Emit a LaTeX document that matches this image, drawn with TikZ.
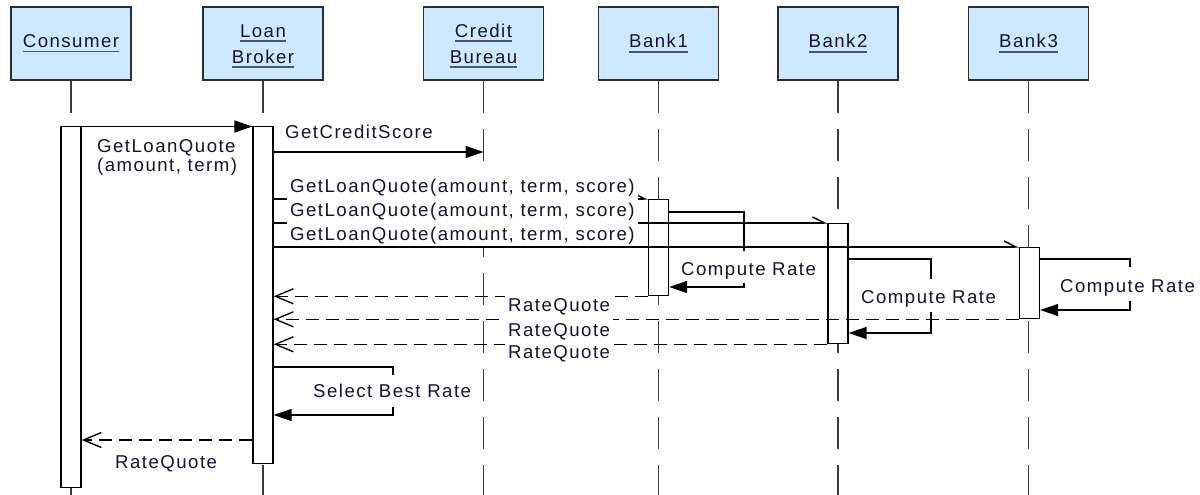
\documentclass[tikz,border=0pt]{standalone}
\usepackage{fontspec}
\setmainfont{Liberation Sans}
\newfontfamily\lab[LetterSpace=8]{Liberation Sans}
\usetikzlibrary{arrows.meta}
\definecolor{boxfill}{RGB}{204,233,255}
\definecolor{boxline}{RGB}{45,45,45}
\definecolor{txt}{RGB}{20,20,50}
\definecolor{ulc}{RGB}{75,85,100}
\definecolor{lifec}{RGB}{60,60,60}
\newcommand{\ulword}[1]{\setbox0=\hbox{#1}\rlap{\textcolor{ulc}{\rule[-4.8pt]{\wd0}{1.6pt}}}\box0}
\begin{document}
\begin{tikzpicture}[x=1pt,y=-1pt,
  hbox/.style={draw=boxline, line width=1.7pt, fill=boxfill, minimum width=120pt, minimum height=73pt, inner sep=0pt, font=\lab\fontsize{18.6}{26}\selectfont, text=txt, align=center},
  act/.style={draw=black, line width=1.3pt, fill=white, minimum width=20pt, inner sep=0pt, anchor=north},
  lifeline/.style={draw=lifec, line width=1.5pt, dash pattern=on 32pt off 16pt},
  msg/.style={draw=black, line width=1.35pt},
  call/.style={msg, -{Triangle[length=18pt,width=12pt]}},
  async/.style={msg, -{Straight Barb[left,length=12pt,width=12pt]}},
  ret/.style={msg, dash pattern=on 13pt off 7pt, -{Straight Barb[length=18pt,width=15pt]}},
  lbl/.style={font=\lab\fontsize{18.6}{22}\selectfont, text=txt, inner xsep=3pt, inner ysep=3pt, text height=15pt, text depth=3pt},
  wlbl/.style={lbl, fill=white},
]
\useasboundingbox (0,0) rectangle (1200,495);
\fill[white] (0,0) rectangle (1200,495);
% headers
\node[hbox] (cons) at (71,43.5) {\ulword{Consumer}};
\node[hbox] (brok) at (263,43.5) {\rule{0pt}{18pt}\ulword{Loan}\\\ulword{Broker}};
\node[hbox] (cred) at (483.5,43.5) {\rule{0pt}{18pt}\ulword{Credit}\\\ulword{Bureau}};
\node[hbox] (bank1) at (658.5,43.5) {\ulword{Bank1}};
\node[hbox] (bank2) at (838,43.5) {\ulword{Bank2}};
\node[hbox] (bank3) at (1028.5,43.5) {\ulword{Bank3}};
% lifelines
\coordinate (bottom) at (0,496);
\foreach \n in {cons,brok,cred,bank1,bank2,bank3}
  \draw[lifeline] (\n.south) -- (\n.south |- bottom);
% activations
\node[act, minimum height=361pt] (cact) at (71,126) {};
\node[act, minimum height=337pt] (bact) at (263,126) {};
\node[act, minimum height=96pt] (b1act) at (658.5,199) {};
\node[act, minimum height=120pt] (b2act) at (838,223) {};
\node[act, minimum height=71pt] (b3act) at (1029.5,247) {};
% calls
\draw[call] (cact.east |- 0,126.5) -- (bact.west |- 0,126.5);
\draw[call] (bact.east |- 0,152) -- (cred.south |- 0,152);
\draw[async] (bact.east |- 0,199) -- (b1act.north west);
\draw[async] (bact.east |- 0,223) -- (b2act.north west);
\draw[async] (bact.east |- 0,247) -- (b3act.north west);
% self messages
\draw[msg] (b1act.east |- 0,212) -| (744,251);
\draw[call] (744,283) |- (b1act.east |- 0,287);
\draw[msg] (b2act.east |- 0,259) -| (931,279);
\draw[call] (931,312) |- (b2act.east |- 0,333);
\draw[msg] (b3act.east |- 0,259) -| (1130,267);
\draw[call] (1130,301) |- (b3act.east |- 0,310);
\draw[msg] (bact.east |- 0,367) -| (393,375);
\draw[call] (393,407) |- (bact.east |- 0,415);
% returns
\draw[ret] (b1act.south west) -- (bact.east |- b1act.south west);
\draw[ret] (b3act.south west) -- (bact.east |- b3act.south west);
\draw[ret] (b2act.south west) -- (bact.east |- b2act.south west);
\draw[ret] (bact.west |- 0,440) -- (cact.east |- 0,440);
% labels
\node[lbl, anchor=base west] (lq1) at (94,152.5) {GetLoanQuote};
\node[lbl, anchor=base west] (lq2) at (94,171.5) {(amount, term)};
\node[lbl, anchor=base west] (lcs) at (282,138) {GetCreditScore};
\node[wlbl, anchor=base west] (q1) at (287,192) {GetLoanQuote(amount, term, score)};
\node[wlbl, anchor=base west] (q2) at (287,216) {GetLoanQuote(amount, term, score)};
\node[wlbl, anchor=base west] (q3) at (287,240) {GetLoanQuote(amount, term, score)};
\node[wlbl, anchor=base west] (r1) at (505,311.3) {RateQuote};
\node[wlbl, anchor=base west] (r2) at (505,336.3) {RateQuote};
\node[wlbl, anchor=base west] (r3) at (505,358.3) {RateQuote};
\node[lbl, anchor=base west] (c1) at (678,275) {Compute Rate};
\node[lbl, anchor=base west] (c2) at (858,303) {Compute Rate};
\node[lbl, anchor=base west] (c3) at (1057,292) {Compute Rate};
\node[lbl, anchor=base west] (sb) at (310,397) {Select Best Rate};
\node[lbl, anchor=base west] (rq) at (112,468) {RateQuote};
\end{tikzpicture}
\end{document}
